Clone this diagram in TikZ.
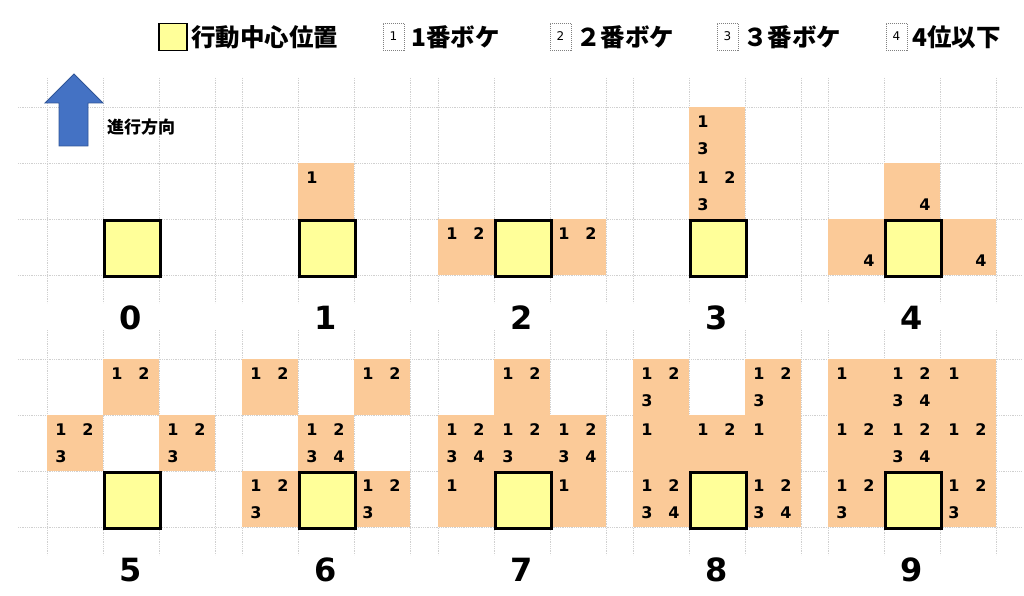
\documentclass[tikz,border=0pt]{standalone}
\usepackage{fontspec}
\setmainfont{DejaVu Sans}
\newfontfamily\jp{Noto Sans CJK JP}
\usepackage{tikz}

\definecolor{peach}{RGB}{251,202,152}
\definecolor{lemon}{RGB}{255,255,153}
\definecolor{arrowblue}{RGB}{68,114,196}
\definecolor{arrowedge}{RGB}{47,85,151}
\definecolor{gridgray}{RGB}{208,208,208}

\begin{document}
\begin{tikzpicture}[x=1pt, y=-1pt,
    gridline/.style={gridgray, line width=0.7pt, dash pattern=on 0.9pt off 0.9pt},
    bokeh/.style={fill=peach, minimum size=56pt, inner sep=0pt, anchor=north west},
    hub/.style={fill=lemon, draw=black, line width=2.5pt, minimum size=56pt, inner sep=0pt, anchor=north west},
    num/.style={font=\fontsize{16}{16}\selectfont\bfseries, inner sep=0pt},
    panelno/.style={font=\fontsize{32}{32}\selectfont\bfseries, inner sep=0pt},
    legendtext/.style={font=\jp\fontsize{24.5}{24.5}\selectfont\bfseries, inner sep=0pt, anchor=west},
    legendbox/.style={draw=gray, line width=0.8pt, dash pattern=on 1pt off 1pt, minimum width=21pt, minimum height=27pt, inner sep=0pt, font=\fontsize{12}{12}\selectfont}]
  \useasboundingbox (0,0) rectangle (1024,596);

  % Legend
  \node[hub, line width=1.5pt, minimum width=28pt, minimum height=27pt] (keyhub) at (158,23) {};
  \node[legendtext] (keyhubtext) at (191,37.5) {行動中心位置};
  \node[legendbox] (key1) at (393.5,36.5) {1};
  \node[legendtext] (key1text) at (411,37.5) {1番ボケ};
  \node[legendbox] (key2) at (560.5,36.5) {2};
  \node[legendtext] (key2text) at (576,37.5) {２番ボケ};
  \node[legendbox] (key3) at (727.5,36.5) {3};
  \node[legendtext] (key3text) at (743,37.5) {３番ボケ};
  \node[legendbox] (key4) at (896.5,36.5) {4};
  \node[legendtext] (key4text) at (912,37.5) {4位以下};

  % Grid
  \foreach \x in {47,103,159,215, 242,298,354,410, 438,494,550,606, 633,689,745,801, 828,884,940,996} {
    \draw[gridline] (\x,78) -- (\x,303);
    \draw[gridline] (\x,330) -- (\x,555);
  }
  \foreach \y in {107,163,219,275, 359,415,471,527}
    \draw[gridline] (18,\y) -- (1022,\y);

  % Direction of travel
  \fill[arrowblue, draw=arrowedge, line width=0.8pt] (59,146) -- (59,103) -- (45,103) -- (74,74) -- (103,103) -- (88,103) -- (88,146) -- cycle;
  \node[anchor=west, inner sep=0pt, font=\jp\fontsize{17}{17}\selectfont\bfseries] (heading) at (107,127) {進行方向};

  % Bokeh cells: x/y of the top left corner, then the numbers 1 2 / 3 4
  \foreach \x/\y/\a/\b/\c/\d in {
      298/163/1///,
      438/219/1/2//, 550/219/1/2//,
      689/107/1//3/, 689/163/1/2/3/,
      884/163////4, 828/219////4, 940/219////4,
      103/359/1/2//, 47/415/1/2/3/, 159/415/1/2/3/,
      242/359/1/2//, 354/359/1/2//, 298/415/1/2/3/4, 242/471/1/2/3/, 354/471/1/2/3/,
      494/359/1/2//, 438/415/1/2/3/4, 494/415/1/2/3/, 550/415/1/2/3/4, 438/471/1///, 550/471/1///,
      633/359/1/2/3/, 745/359/1/2/3/, 633/415/1///, 689/415/1/2//, 745/415/1///, 633/471/1/2/3/4, 745/471/1/2/3/4,
      828/359/1///, 884/359/1/2/3/4, 940/359/1///, 828/415/1/2//, 884/415/1/2/3/4, 940/415/1/2//, 828/471/1/2/3/, 940/471/1/2/3/} {
    \node[bokeh] (b\x-\y) at (\x,\y) {};
    \node[num] (b\x-\y-1) at (\x+14,\y+15) {\a};
    \node[num] (b\x-\y-2) at (\x+41,\y+15) {\b};
    \node[num] (b\x-\y-3) at (\x+14,\y+42) {\c};
    \node[num] (b\x-\y-4) at (\x+41,\y+42) {\d};
  }

  % Centre of action and panel numbers
  \foreach \x/\y/\n in {103/219/0, 298/219/1, 494/219/2, 689/219/3, 884/219/4,
                        103/471/5, 298/471/6, 494/471/7, 689/471/8, 884/471/9} {
    \node[hub] (hub\n) at (\x,\y) {};
    \node[panelno] (no\n) at (\x+28,\y+99) {\n};
  }
\end{tikzpicture}
\end{document}
